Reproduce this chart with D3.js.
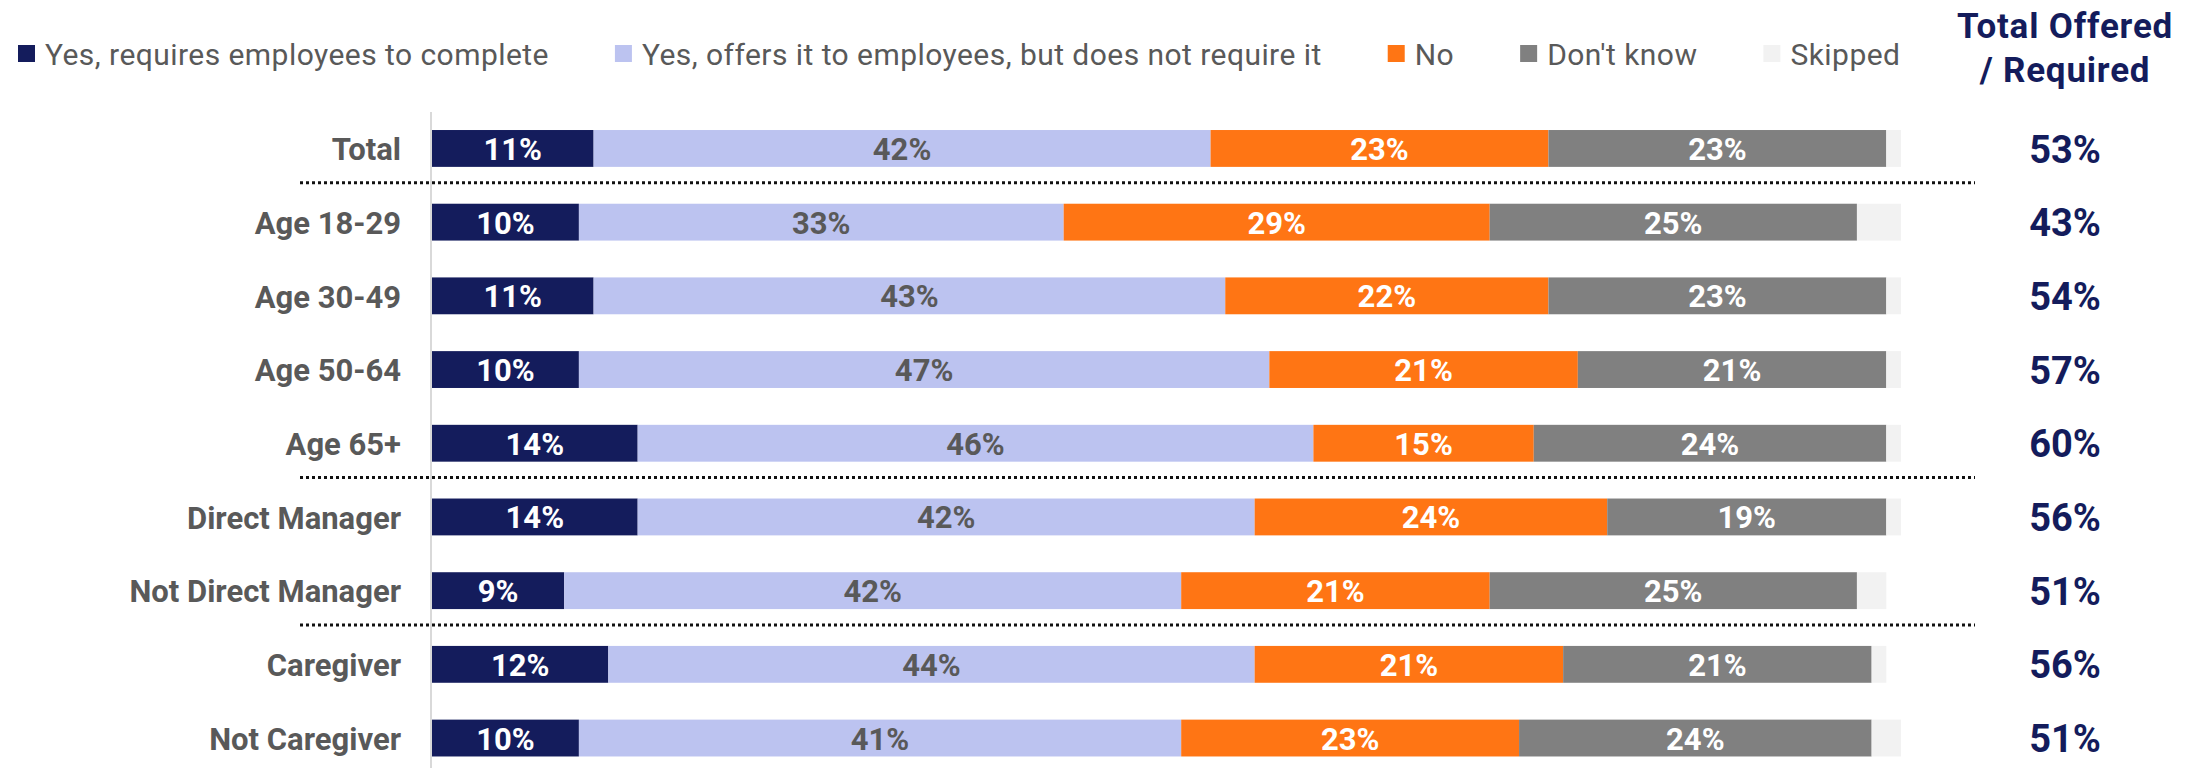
<!DOCTYPE html>
<html>
<head>
<meta charset="utf-8">
<script src="https://cdn.jsdelivr.net/npm/d3@7"></script>
<style>
  html, body { margin: 0; padding: 0; background: #ffffff; }
  svg { display: block; font-family: Roboto, "Noto Sans", sans-serif; }
</style>
</head>
<body>
<svg id="chart" width="2195" height="768"></svg>
<script>
// Survey groups (rows, top to bottom)
const categories = [
  "Total", "Age 18-29", "Age 30-49", "Age 50-64", "Age 65+",
  "Direct Manager", "Not Direct Manager", "Caregiver", "Not Caregiver"
];

// Response series, in stacking order
const seriesNames = [
  "Yes, requires employees to complete",
  "Yes, offers it to employees, but does not require it",
  "No",
  "Don't know",
  "Skipped"
];

const requiresValues = [11, 10, 11, 10, 14, 14, 9, 12, 10];
const offersValues   = [42, 33, 43, 47, 46, 42, 42, 44, 41];
const noValues       = [23, 29, 22, 21, 15, 24, 21, 21, 23];
const dontKnowValues = [23, 25, 23, 21, 24, 19, 25, 21, 24];
const skippedValues  = [1, 3, 1, 1, 1, 1, 2, 1, 2];

// Combined "offered or required" share shown in the right column
const totalOfferedValues = [53, 43, 54, 57, 60, 56, 51, 56, 51];
const totalHeaderLines = ["Total Offered", "/ Required"];

// Groups after which a dotted divider is drawn
const dividerAfter = ["Total", "Age 65+", "Not Direct Manager"];

const colors = ["#141c5c", "#bcc3f0", "#ff7514", "#808080", "#f2f2f2"];
const labelColors = ["#ffffff", "#595959", "#ffffff", "#ffffff", null];
const textGray = "#595959";
const navy = "#141c5c";

const seriesValues = [requiresValues, offersValues, noValues, dontKnowValues, skippedValues];
const rows = categories.map((c, i) => {
  const r = { category: c };
  seriesNames.forEach((s, k) => { r[s] = seriesValues[k][i]; });
  return r;
});

const svg = d3.select("#chart");

const x = d3.scaleLinear().domain([0, 100]).range([432, 1901]);
const y = d3.scaleBand()
  .domain(categories)
  .range([111.6, 774.9])
  .paddingInner(0.5)
  .paddingOuter(0.25);

const stack = d3.stack().keys(seriesNames);
const layers = stack(rows);

// Stacked bars
const layerG = svg.append("g").selectAll("g")
  .data(layers)
  .join("g")
  .attr("fill", (d, i) => colors[i]);

layerG.selectAll("rect")
  .data(d => d)
  .join("rect")
  .attr("x", d => x(d[0]))
  .attr("y", d => y(d.data.category))
  .attr("width", d => x(d[1]) - x(d[0]))
  .attr("height", y.bandwidth());

// Segment value labels
layers.forEach((layer, i) => {
  if (!labelColors[i]) return;
  svg.append("g").selectAll("text")
    .data(layer)
    .join("text")
    .attr("x", d => (x(d[0]) + x(d[1])) / 2)
    .attr("y", d => y(d.data.category) + y.bandwidth() / 2)
    .attr("dy", "0.37em")
    .attr("text-anchor", "middle")
    .attr("font-size", 31)
    .attr("font-weight", 700)
    .attr("fill", labelColors[i])
    .text(d => (d[1] - d[0]) + "%");
});

// Category axis
const yAxis = d3.axisLeft(y).tickSize(0).tickPadding(30);
const axisG = svg.append("g")
  .attr("transform", `translate(${x(0) - 1},0)`)
  .call(yAxis);
axisG.select(".domain").remove();
axisG.selectAll("text")
  .attr("font-family", "Roboto, sans-serif")
  .attr("font-size", 31)
  .attr("font-weight", 700)
  .attr("dy", "0.38em")
  .attr("fill", textGray);

svg.append("line")
  .attr("x1", x(0) - 1).attr("x2", x(0) - 1)
  .attr("y1", 112).attr("y2", 768)
  .attr("stroke", "#d9d9d9")
  .attr("stroke-width", 2);

// Dotted dividers between groups
dividerAfter.forEach(c => {
  const i = categories.indexOf(c);
  const yy = (y(categories[i]) + y.bandwidth() + y(categories[i + 1])) / 2 - 2.5;
  svg.append("line")
    .attr("x1", 300).attr("x2", 1975)
    .attr("y1", yy).attr("y2", yy)
    .attr("stroke", "#111111")
    .attr("stroke-width", 3)
    .attr("stroke-dasharray", "3,3");
});

// Right column: total offered / required
svg.append("g").selectAll("text")
  .data(categories)
  .join("text")
  .attr("x", 2065)
  .attr("y", d => y(d) + y.bandwidth() / 2)
  .attr("dy", "0.37em")
  .attr("text-anchor", "middle")
  .attr("font-size", 38)
  .attr("font-weight", 700)
  .attr("fill", navy)
  .text((d, i) => totalOfferedValues[i] + "%");

svg.append("g").selectAll("text")
  .data(totalHeaderLines)
  .join("text")
  .attr("x", 2065)
  .attr("y", (d, i) => 38 + i * 44)
  .attr("text-anchor", "middle")
  .attr("font-size", 35)
  .attr("font-weight", 700)
  .attr("letter-spacing", 0.8)
  .attr("fill", navy)
  .text(d => d);

// Legend
const legend = svg.append("g");
let lx = 18;
seriesNames.forEach((name, i) => {
  const g = legend.append("g").attr("transform", `translate(${lx},0)`);
  g.append("rect")
    .attr("x", 0).attr("y", 45)
    .attr("width", 17).attr("height", 17)
    .attr("fill", colors[i]);
  const t = g.append("text")
    .attr("x", 27).attr("y", 65)
    .attr("font-size", 30)
    .attr("letter-spacing", 0.45)
    .attr("fill", textGray)
    .text(name);
  lx += 27 + t.node().getComputedTextLength() + 66;
});
</script>
</body>
</html>
